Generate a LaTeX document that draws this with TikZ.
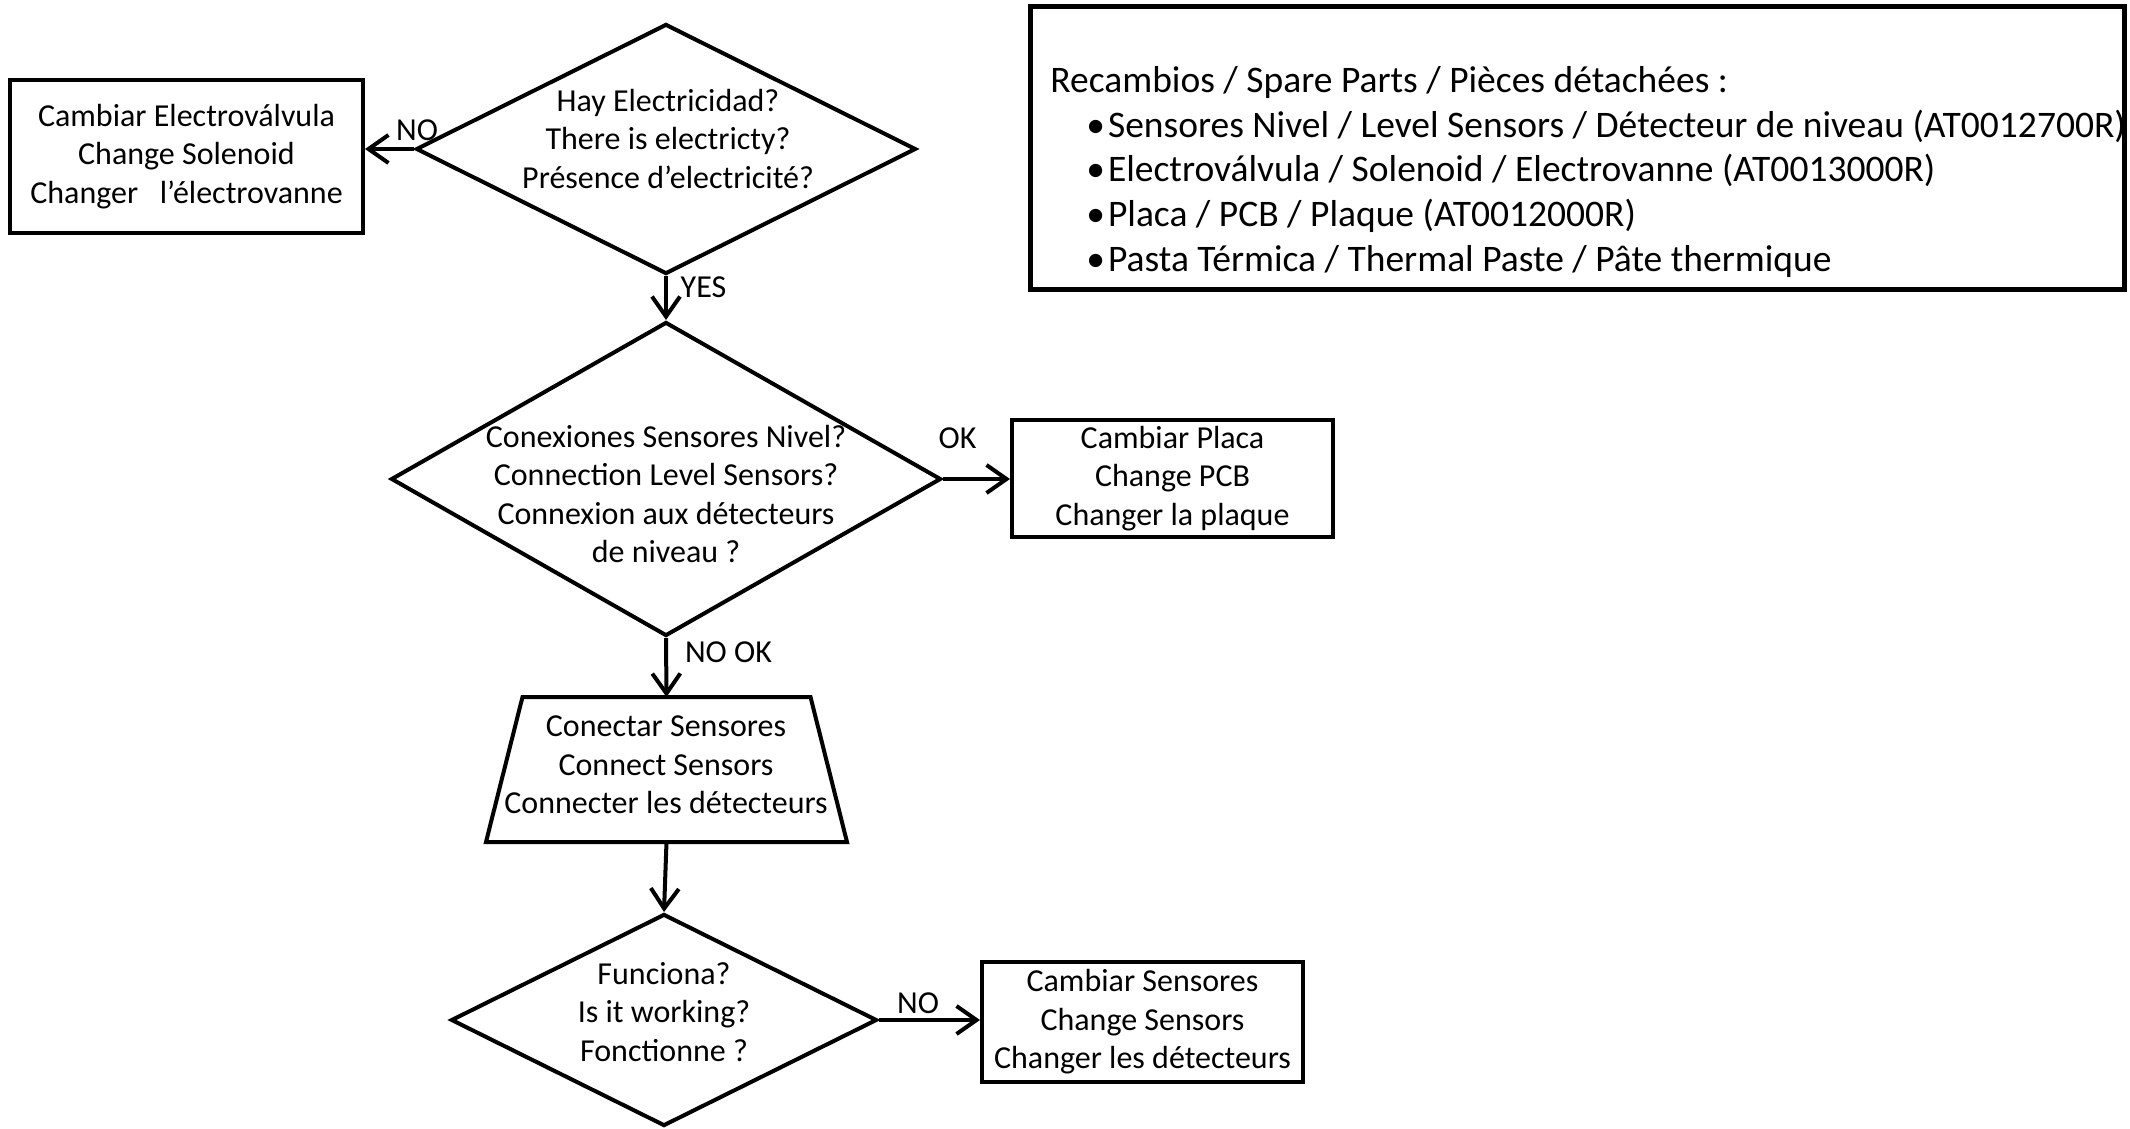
\documentclass[tikz,border=0pt]{standalone}
\usepackage{fontspec}
\setmainfont{Carlito}
\usetikzlibrary{shapes.geometric,arrows.meta}
\begin{document}
\begin{tikzpicture}[x=0.5pt,y=-0.5pt,
  every node/.style={font=\fontsize{16}{19.25}\selectfont, inner sep=0pt},
  box/.style={draw, line width=2pt, rectangle, align=center},
  dia/.style={draw, line width=2pt, diamond},
  txt/.style={align=center},
  lbl/.style={},
  arr/.style={line width=2pt, -{Straight Barb[length=10pt,width=14pt]}}]
\fill[white] (0,0) rectangle (2130,1129);
\useasboundingbox (0,0) rectangle (2130,1129);

% legend
\node[box, line width=2.5pt, minimum width=547pt, minimum height=141.5pt] (legend) at (1577.5,148) {};
\node[anchor=west, align=left, font=\fontsize{18.75}{22.4}\selectfont] (legendtxt) at (1050,172)
 {Recambios / Spare Parts / Pièces détachées :\\
  \hspace*{18pt}•\hspace{1.5pt}Sensores Nivel / Level Sensors / Détecteur de niveau (AT0012700R)\\
  \hspace*{18pt}•\hspace{1.5pt}Electroválvula / Solenoid / Electrovanne (AT0013000R)\\
  \hspace*{18pt}•\hspace{1.5pt}Placa / PCB / Plaque (AT0012000R)\\
  \hspace*{18pt}•\hspace{1.5pt}Pasta Térmica / Thermal Paste / Pâte thermique};

% shapes
\node[dia, minimum width=250pt, minimum height=125pt] (d1) at (666,149) {};
\node[txt] (d1t) at (668,139) {Hay Electricidad?\\There is electricty?\\Présence d’electricité?};

\node[box, minimum width=176.5pt, minimum height=76.5pt] (b1) at (186.5,156.5)
 {Cambiar Electroválvula\\Change Solenoid\\Changer\ \ \ l’électrovanne};

\node[dia, minimum width=275pt, minimum height=157pt] (d2) at (666,479) {};
\node[txt] (d2t) at (666,494) {Conexiones Sensores Nivel?\\Connection Level Sensors?\\Connexion aux détecteurs\\de niveau ?};

\node[box, minimum width=160.5pt, minimum height=58.5pt] (b2) at (1172.5,478.5)
 {Cambiar Placa\\Change PCB\\Changer la plaque};

% trapezoid (manual operation)
\node[minimum width=178.5pt, minimum height=70.5pt, outer sep=1pt] (t) at (666.5,769.5) {};
\draw[line width=2pt, line join=miter] (t.south west) -- ([xshift=18.25pt]t.north west)
  -- ([xshift=-18.25pt]t.north east) -- (t.south east) -- cycle;
\node[txt] (tt) at (666,765) {Conectar Sensores\\Connect Sensors\\Connecter les détecteurs};

\node[dia, minimum width=213pt, minimum height=106pt] (d3) at (664,1020) {};
\node[txt] (d3t) at (664,1012) {Funciona?\\Is it working?\\Fonctionne ?};

\node[box, minimum width=160.5pt, minimum height=60pt] (b3) at (1142.5,1022)
 {Cambiar Sensores\\Change Sensors\\Changer les détecteurs};

% connectors
\draw[arr] (d1.west) -- (d1.west -| b1.east);
\draw[arr] (d1.south) -- (d2.north);
\draw[arr] (d2.east) -- (d2.east -| b2.west);
\draw[arr] (d2.south) -- (t.north);
\draw[arr] (t.south) -- (d3.north);
\draw[arr] (d3.east) -- (d3.east -| b3.west);

% labels
\node[lbl] (lno1) at (417,130) {NO};
\node[lbl] (lyes) at (703.5,287) {YES};
\node[lbl] (lok) at (957.5,438) {OK};
\node[lbl] (lnook) at (728.5,652) {NO OK};
\node[lbl] (lno2) at (918,1003) {NO};
\end{tikzpicture}
\end{document}
